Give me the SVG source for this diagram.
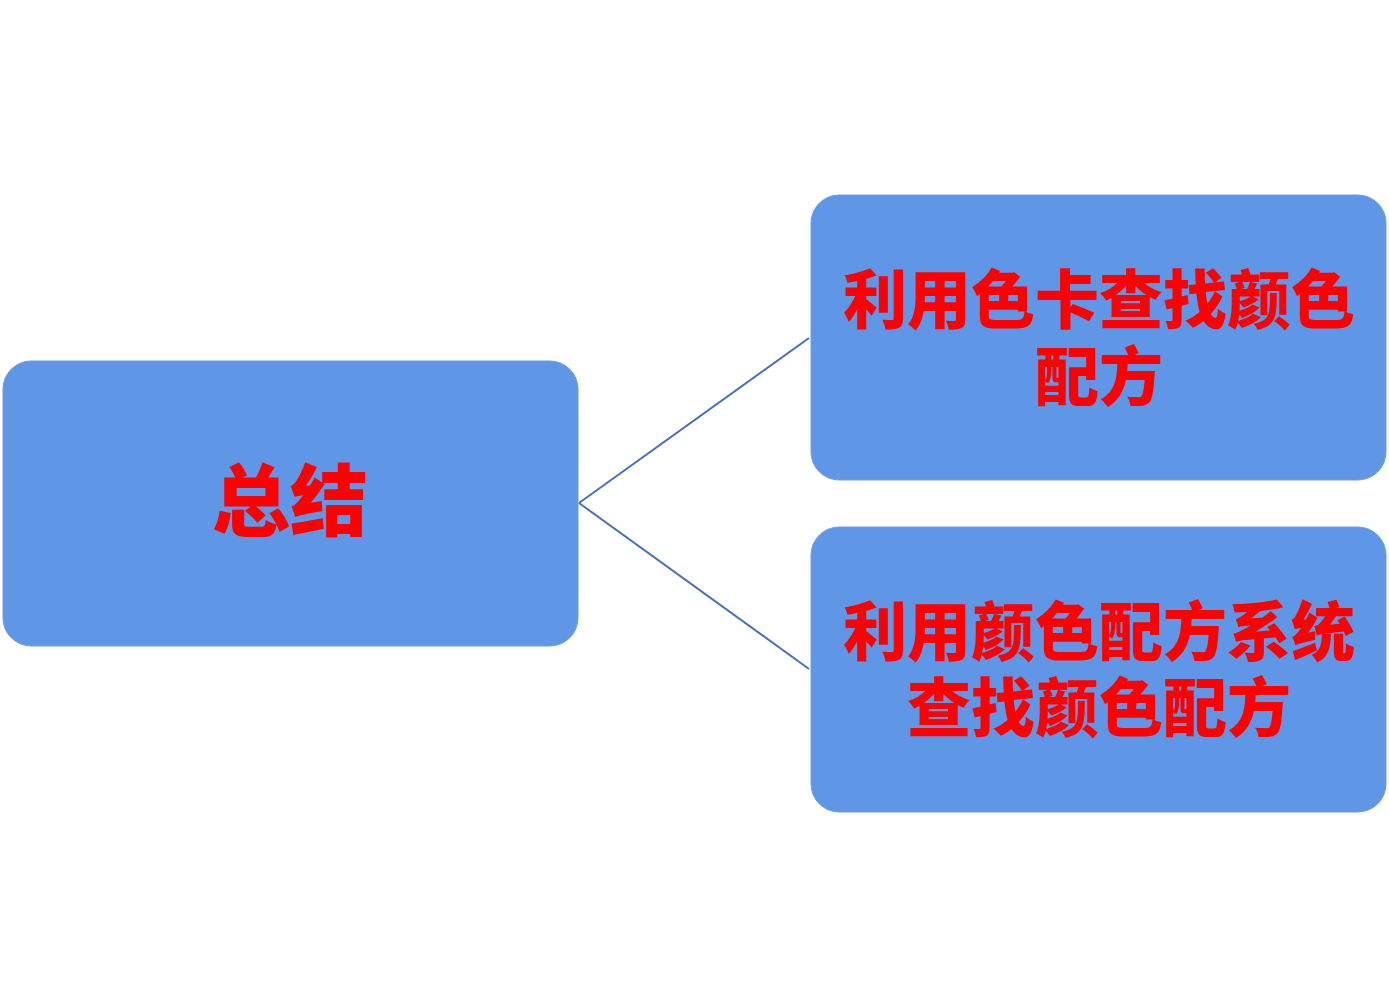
<svg xmlns="http://www.w3.org/2000/svg" width="1389" height="1008" viewBox="0 0 1389 1008">
<style>
.box{fill:#6096E6;stroke:#6E9EE6;stroke-width:1}
.t{font-family:"Noto Sans CJK SC","Noto Sans CJK TC",sans-serif;font-weight:900;fill:#FF0000;text-anchor:middle}
.conn{stroke:#4872B8;stroke-width:2;fill:none}
</style>
<rect width="1389" height="1008" fill="#FFFFFF"/>
<g id="connectors">
<line class="conn" x1="579" y1="503" x2="809" y2="338"/>
<line class="conn" x1="579" y1="503" x2="809" y2="669"/>
</g>
<g id="node-summary">
<rect class="box" x="3" y="361" width="575" height="285" rx="28" ry="28"/>
<text class="t" x="290" y="530" font-size="78">总结</text>
</g>
<g id="node-card">
<rect class="box" x="811" y="195" width="575" height="285" rx="28" ry="28"/>
<text class="t" x="1099" y="323" font-size="64">利用色卡查找颜色</text>
<text class="t" x="1099" y="400" font-size="64">配方</text>
</g>
<g id="node-system">
<rect class="box" x="811" y="527" width="575" height="285" rx="28" ry="28"/>
<text class="t" x="1099" y="655" font-size="64">利用颜色配方系统</text>
<text class="t" x="1099" y="731" font-size="64">查找颜色配方</text>
</g>
</svg>
